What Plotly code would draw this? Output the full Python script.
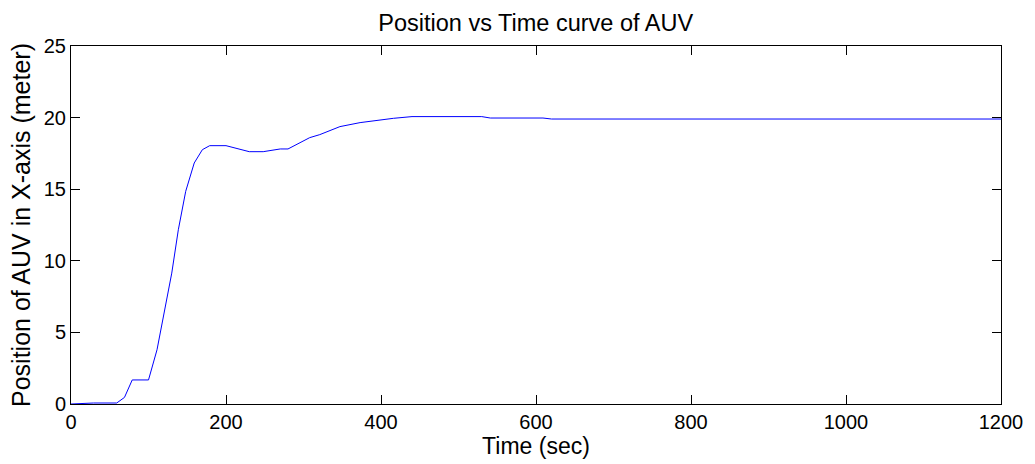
import plotly.graph_objects as go

# Simulated AUV position along the X-axis over time
time_sec = [0, 29, 59, 69, 79, 100, 111, 121, 130, 138.5, 148, 159, 169.5, 179,
            200, 230, 248, 270, 280, 308, 321, 347, 373, 416, 440, 530, 541,
            609, 620, 1200]
position_m = [0, 0.07, 0.07, 0.46, 1.68, 1.68, 3.79, 6.58, 9.14, 12.17, 14.85,
              16.83, 17.76, 18.04, 18.04, 17.62, 17.62, 17.81, 17.81, 18.6,
              18.81, 19.37, 19.65, 19.95, 20.07, 20.07, 19.97, 19.97, 19.9, 19.9]

x_ticks = [0, 200, 400, 600, 800, 1000, 1200]
y_ticks = [0, 5, 10, 15, 20, 25]

FONT = "Liberation Sans, Arial, sans-serif"

fig = go.Figure(
    go.Scatter(
        x=time_sec,
        y=position_m,
        mode="lines",
        line=dict(color="#0000ff", width=1),
        showlegend=False,
        hoverinfo="x+y",
    )
)

axis_common = dict(
    showgrid=False,
    zeroline=False,
    showline=True,
    linecolor="black",
    linewidth=1,
    mirror="ticks",
    ticks="inside",
    ticklen=9,
    tickwidth=1,
    tickcolor="black",
    tickfont=dict(family=FONT, size=20, color="black"),
    automargin=False,
)

fig.update_xaxes(
    range=[0, 1200],
    tickvals=x_ticks,
    ticktext=[str(v) for v in x_ticks],
    title=dict(text="Time (sec)", font=dict(family=FONT, size=23, color="black"), standoff=1),
    **axis_common,
)
fig.update_yaxes(
    range=[0, 25],
    tickvals=y_ticks,
    ticktext=[str(v) for v in y_ticks],
    title=dict(text="Position of AUV in X-axis (meter)",
               font=dict(family=FONT, size=25, color="black"), standoff=6),
    **axis_common,
)

fig.update_layout(
    width=1035,
    height=464,
    margin=dict(l=71, r=34, t=46, b=60),
    paper_bgcolor="white",
    plot_bgcolor="white",
    title=dict(
        text="Position vs Time curve of AUV",
        font=dict(family=FONT, size=23.5, color="black"),
        x=0.5176,
        xanchor="center",
        y=0.95,
        yanchor="middle",
    ),
)

fig.write_html("out.html")
